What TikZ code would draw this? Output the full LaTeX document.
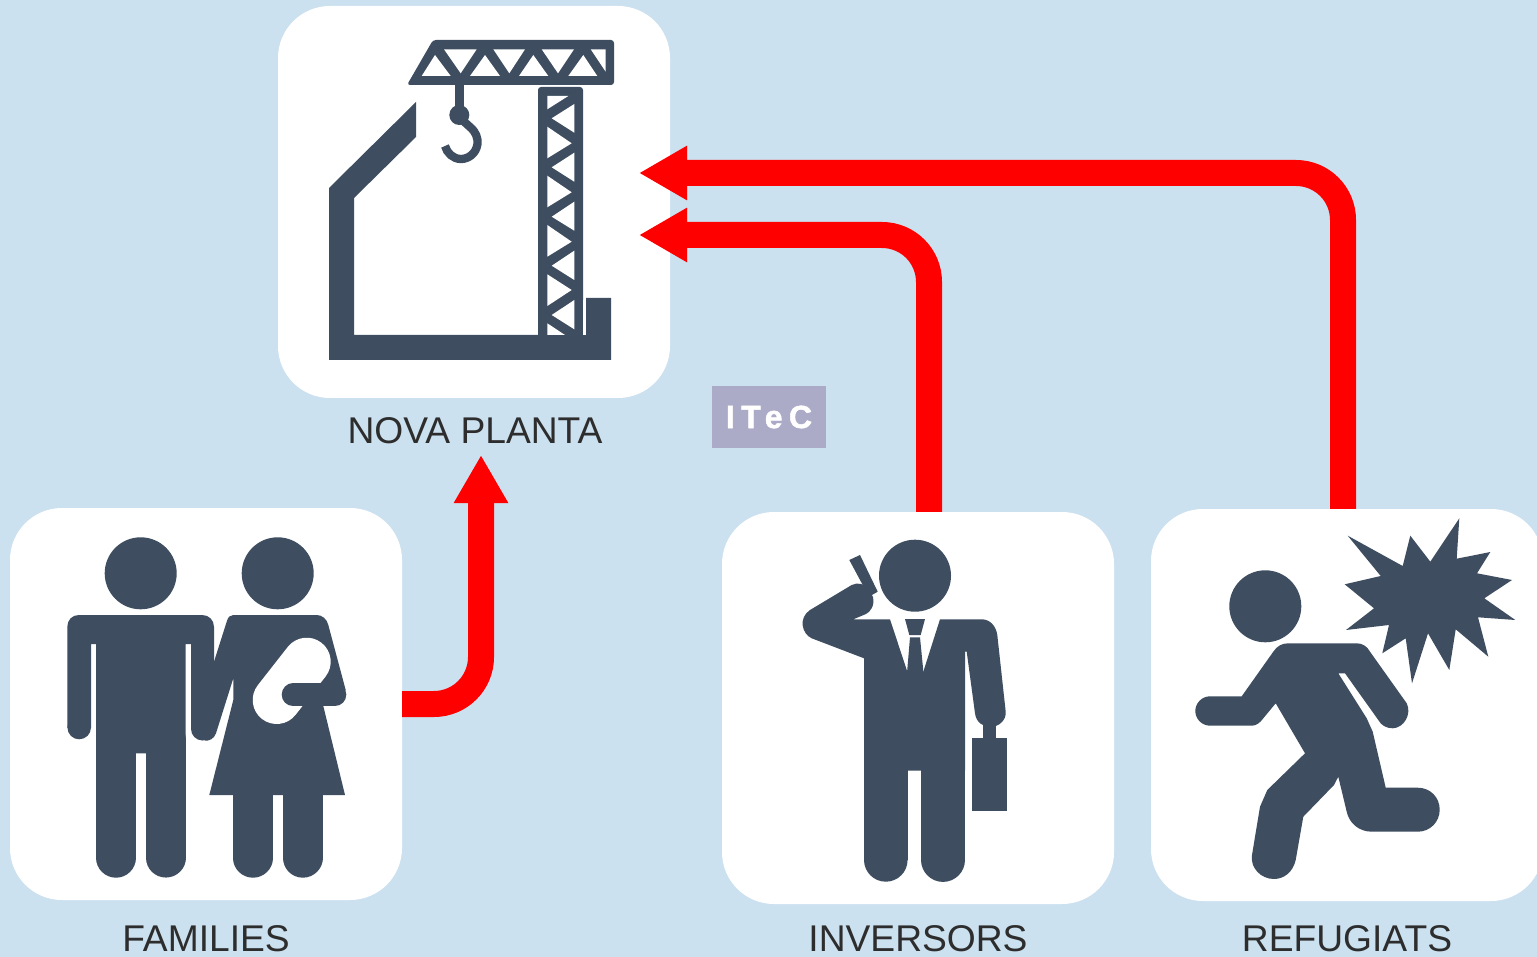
\documentclass[tikz,border=0pt]{standalone}
\usepackage{fontspec}
\setmainfont{Liberation Sans}
\newfontfamily\logofont[LetterSpace=20,FakeBold=1.6]{Liberation Sans Bold}
\usepackage{tikz}
\usetikzlibrary{arrows.meta}
\definecolor{skyback}{RGB}{204,225,240}
\definecolor{inkblue}{RGB}{62,77,96}
\definecolor{logoback}{RGB}{171,171,199}
\definecolor{captext}{RGB}{45,45,45}
\tikzstyle{panel}=[fill=white, draw=none, rounded corners=52pt, inner sep=0pt, minimum size=392pt]
\tikzstyle{boxlabel}=[text=captext, inner sep=0pt, font=\fontsize{37.2}{44}\selectfont]
\tikzstyle{flow}=[draw=red, line width=26pt, rounded corners=47pt, -{Triangle[length=48pt,width=51pt]}]
\tikzstyle{ink}=[fill=inkblue, draw=none]
\tikzstyle{gap}=[fill=white, draw=none]
\tikzstyle{limb}=[draw=inkblue, line cap=round, line join=round]
\newcommand{\panel}{\node[panel]}
\newcommand{\boxlabel}{\node[boxlabel]}

\begin{document}
\begin{tikzpicture}[x=1pt,y=-1pt]
	\fill[skyback] (0,0) rectangle (1537,957);
	\useasboundingbox (0,0) rectangle (1537,957);

	%% The four white panels, each named for the later arrows.
	\panel (nova) at (474,202) {};
	\panel (families) at (206,704) {};
	\panel (inversors) at (918,708) {};
	\panel (refugiats) at (1347,705) {};

	\boxlabel (novacap) at (475,431) {NOVA PLANTA};
	\boxlabel (familiescap) at (206,938.5) {FAMILIES};
	\boxlabel (inversorscap) at (918,938.5) {INVERSORS};
	\boxlabel (refugiatscap) at (1347,938.5) {REFUGIATS};

	\node[fill=logoback, inner sep=0pt, minimum width=114pt, minimum height=62pt, text=white, font=\logofont\fontsize{32}{36}\selectfont] (itec) at (769,417) {ITeC};

	%% Free ends of the arrows.
	\coordinate (tipfamilies) at (481,455);
	\coordinate (tipinversors) at (639,235);
	\coordinate (tiprefugiats) at (639,173);

	\path[flow] (families.east) -| (tipfamilies);
	\path[flow] ([xshift=11pt]inversors.north) |- (tipinversors);
	\path[flow] ([xshift=-4pt]refugiats.north) |- (tiprefugiats);

	%% Crane and building.
	\fill[ink] (329,188) -- (416,102) -- (416,137) -- (354,198) -- (354,335) -- (586,335) -- (586,298) -- (611,298) -- (611,360) -- (329,360) -- cycle;
	\fill[ink, rounded corners=3pt] (538,87) rectangle (583,345);
	\fill[ink, rounded corners=3pt] (433,40) -- (614,40) -- (614,85) -- (407,85) -- cycle;
	\fill[gap] (547.3,96) -- (568.3,96) -- (547.3,109.3) -- cycle;
	\fill[gap] (551.7,118.3) -- (574.3,104) -- (574.3,132.7) -- cycle;
	\fill[gap] (571.7,143.3) -- (547.3,126.7) -- (547.3,158.3) -- cycle;
	\fill[gap] (551.7,167.3) -- (574.3,152.7) -- (574.3,181.7) -- cycle;
	\fill[gap] (571.7,192.3) -- (547.3,175.7) -- (547.3,207.3) -- cycle;
	\fill[gap] (551.7,216.7) -- (574.3,201.7) -- (574.3,230.7) -- cycle;
	\fill[gap] (571.7,241.7) -- (547.3,225) -- (547.3,256.7) -- cycle;
	\fill[gap] (551.7,265.7) -- (574.3,250.7) -- (574.3,280) -- cycle;
	\fill[gap] (571.7,290) -- (547.3,274.3) -- (547.3,306) -- cycle;
	\fill[gap] (551.7,315) -- (574.3,300) -- (574.3,329.3) -- cycle;
	\fill[gap] (547.3,323.3) -- (547.3,335) -- (565,335) -- cycle;
	\fill[gap] (583,300) rectangle (586,335);
	\fill[ink] (538,335) rectangle (583,345);
	\fill[gap] (435,55) -- (421.7,76) -- (450.7,76) -- cycle;
	\fill[gap] (444,49.3) -- (476.7,49.3) -- (460.7,73.3) -- cycle;
	\fill[gap] (485,55) -- (470,76) -- (500,76) -- cycle;
	\fill[gap] (493.3,49.3) -- (525,49.3) -- (509.3,73.3) -- cycle;
	\fill[gap] (533.3,55) -- (519,76) -- (548.3,76) -- cycle;
	\fill[gap] (541.7,49.3) -- (574,49.3) -- (558,73.3) -- cycle;
	\fill[gap] (583.3,55) -- (568.3,76) -- (597.3,76) -- cycle;
	\fill[gap] (590.7,49.3) -- (605.7,49.3) -- (605.7,71.7) -- cycle;
	\fill[ink] (455,85) rectangle (464,110);
	\fill[ink] (459.3,115) circle[radius=10];
	\draw[draw=inkblue, line width=8.3pt] (460,118) -- (470,127) .. controls (476,132) and (478,138) .. (477.5,144) .. controls (476,154) and (468,159) .. (461,159) .. controls (453,159) and (447,153) .. (445,146);

	%% Man and woman with baby.
	\fill[ink] (140.7,573.3) circle[radius=36];
	\fill[ink] (277.7,573.3) circle[radius=36];
	\fill[ink] (67.3,727.5) -- (67.3,627) .. controls (67.3,620) and (72,615) .. (79,615) -- (202,615) .. controls (209,615) and (214,620) .. (214,627) -- (214,661.7) -- (191,700) -- (191,644) -- (185.7,644) -- (185.7,753.3) -- (96,753.3) -- (96,644) -- (91,644) -- (91,727.5) -- cycle;
	\fill[ink] (79.2,727.5) circle[radius=11.8];
	\draw[limb, line width=40pt] (116,740) -- (116,857.7);
	\draw[limb, line width=39.7pt] (165.8,740) -- (165.8,857.7);
	\draw[limb, line width=23pt] (202.5,660) -- (202.5,729);
	\fill[ink] (214,661.7) -- (226.7,621.7) .. controls (228,617) and (230,615) .. (233.3,615) -- (316.7,615) .. controls (322,615) and (327,619) .. (328.3,625) -- (345.7,690) -- (323.3,706) -- (345,795) -- (209.3,795) -- (233.3,700) -- (233.3,678.3) -- (216,733.3) .. controls (214,739) and (209,741) .. (205,740.7) -- (191,720) -- cycle;
	\draw[limb, line width=39.4pt] (253,785) -- (253,858);
	\draw[limb, line width=40pt] (302.7,785) -- (302.7,857.7);
	\draw[draw=white, line width=48pt, line cap=round] (276.7,700) -- (306.7,661.7);
	\draw[limb, line width=22.6pt] (293,694.7) -- (335,694.7);

	%% Man on the phone with a case.
	\fill[ink] (915,575.7) circle[radius=36];
	\fill[ink] (849.3,560) -- (860,555) -- (877.7,591.7) -- (869,596.7) -- cycle;
	\fill[ink] (853.3,619.3) -- (890,619.3) -- (907.3,671.7) -- (923.3,671.7) -- (940,619.3) -- (981.7,619.3) .. controls (990,619.3) and (996,626) .. (997.3,635) -- (1005.7,711.7) .. controls (1006.5,720) and (999,727) .. (990,727) .. controls (983,727) and (976,722) .. (975,713.3) -- (966.7,651.7) -- (965,651.7) -- (965,770.7) -- (864,770.7) -- (864,658.3) -- (811.7,638.3) .. controls (802,634) and (798,618) .. (810,610) -- (851.7,585) .. controls (858,582) and (864,584) .. (868,588) -- (873,597) .. controls (875,606) and (870,612) .. (866,614) -- cycle;
	\fill[ink] (905,619) -- (925,619) -- (920.7,635) -- (909.3,635) -- cycle;
	\fill[ink] (910,637.3) -- (920,637.3) -- (923.5,673) -- (907,673) -- cycle;
	\fill[ink] (864,760) rectangle (907.7,860);
	\fill[ink] (921,760) rectangle (965,860);
	\fill[ink] (885.8,859.9) circle[radius=21.8];
	\fill[ink] (943,859.9) circle[radius=22];
	\fill[ink] (983.3,723) rectangle (996,738.3);
	\fill[ink] (972,738.3) rectangle (1007,811);

	%% Runner and burst.
	\fill[ink] (1265.3,606.3) circle[radius=36];
	\fill[ink] (1347.7,535.7) -- (1402.7,566) -- (1410.3,535.7) -- (1430.3,561.7) -- (1459.3,518.3) -- (1456.7,558.7) -- (1490.3,552) -- (1477,573.3) -- (1512,580) -- (1484.3,598.3) -- (1515.3,620) -- (1478,617.3) -- (1488.3,656.7) -- (1455.7,629.3) -- (1449.3,670) -- (1428,633.3) -- (1412,683.3) -- (1405.7,638.3) -- (1382.3,653.3) -- (1389,625) -- (1346,630) -- (1374,608.3) -- (1344.7,584.3) -- (1380.7,576) -- cycle;
	\fill[ink] (1273.3,651.7) .. controls (1277,646) and (1282,643.3) .. (1288.3,643.3) -- (1356.7,643.3) .. controls (1362,643.3) and (1367,646) .. (1370,651.7) -- (1406.7,703.3) .. controls (1412,714) and (1404,728) .. (1392.7,728.3) .. controls (1386,728.3) and (1381,725) .. (1378.3,720) -- (1345,673.3) -- (1338.3,673.3) -- (1366.7,718.3) -- (1372.7,731.7) -- (1385.7,787.7) -- (1417.7,787.7) .. controls (1430,787.7) and (1439.7,797) .. (1439.7,809.7) .. controls (1439.7,822) and (1430,831.7) .. (1417.7,831.7) -- (1371.7,831.7) .. controls (1359,831.7) and (1349,823) .. (1346.7,811.7) -- (1338.3,776.7) -- (1334,785) -- (1303.3,816.7) -- (1295.7,860) .. controls (1293,872) and (1284,879) .. (1274,879) .. controls (1261,879) and (1250,868) .. (1252,855) -- (1260,806.7) -- (1267.3,790) -- (1305,753.3) -- (1275.7,703.3) -- (1263.3,718.3) .. controls (1260,723) and (1256,725.7) .. (1251.7,725.7) -- (1210,725.7) .. controls (1202,725.7) and (1195.3,719) .. (1195.3,711) .. controls (1195.3,703) and (1202,696.3) .. (1210,696.3) -- (1241.7,696.3) -- cycle;
\end{tikzpicture}
\end{document}
